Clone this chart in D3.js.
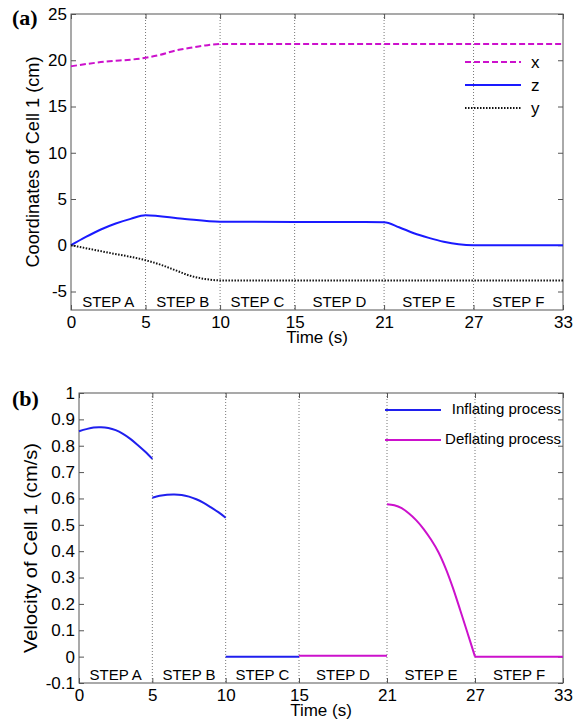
<!DOCTYPE html>
<html lang="en">
<head>
    <meta charset="UTF-8">
    <title>Cell 1 coordinates and velocity</title>
    <style>
        body { margin: 0; background: #fff; }
        text { font-family: "Liberation Sans", Arial, sans-serif; fill: #000; }
    </style>
</head>
<body>
    <script src="https://d3js.org/d3.v7.min.js"></script>
    <script>
        const width = 583;
        const height = 720;

        // shared x axis
        const timeTicks = [0, 5, 10, 15, 21, 27, 33];
        const stepBounds = [5, 10, 15, 21, 27];
        const stepNames = ["STEP A", "STEP B", "STEP C", "STEP D", "STEP E", "STEP F"];

        // (a) coordinates
        const coordTicks = [-5, 0, 5, 10, 15, 20, 25];
        const xTime = [0, 2, 5, 6, 7, 8, 9, 10, 33];
        const xCoord = [19.35, 19.8, 20.27, 20.6, 21.05, 21.35, 21.6, 21.75, 21.75];
        const zTime = [0, 1, 2, 3, 4, 5, 7.5, 10, 15, 21, 22, 23, 24, 25, 26, 27, 33];
        const zCoord = [0, 0.9, 1.7, 2.35, 2.85, 3.25, 2.87, 2.55, 2.52, 2.5, 1.95, 1.3, 0.8, 0.38, 0.1, 0, 0];
        const yTime = [0, 2.5, 5, 6, 7, 8, 9, 10, 33];
        const yCoord = [0, -0.8, -1.62, -2.1, -2.7, -3.3, -3.65, -3.8, -3.8];

        // (b) velocity
        const velTicks = [-0.1, 0, 0.1, 0.2, 0.3, 0.4, 0.5, 0.6, 0.7, 0.8, 0.9, 1];
        const velLabels = ["-0.1", "0", "0.1", "0.2", "0.3", "0.4", "0.5", "0.6", "0.7", "0.8", "0.9", "1"];
        const inflTimeA = [0, 0.5, 1, 1.5, 2, 2.5, 3, 3.5, 4, 4.5, 5];
        const inflVelA = [0.855, 0.863, 0.869, 0.87, 0.867, 0.859, 0.845, 0.826, 0.803, 0.778, 0.75];
        const inflTimeB = [5, 5.5, 6, 6.5, 7, 7.5, 8, 8.5, 9, 9.5, 10];
        const inflVelB = [0.603, 0.61, 0.614, 0.615, 0.613, 0.607, 0.597, 0.583, 0.566, 0.548, 0.527];
        const inflTimeC = [10, 15];
        const inflVelC = [0, 0];
        const deflTimeD = [15, 21];
        const deflVelD = [0.003, 0.003];
        const deflTimeE = [21, 21.5, 22, 22.5, 23, 23.5, 24, 24.5, 25, 25.5, 26, 26.5, 27];
        const deflVelE = [0.578, 0.574, 0.563, 0.543, 0.517, 0.484, 0.444, 0.397, 0.335, 0.26, 0.175, 0.088, 0];
        const deflTimeF = [27, 33];
        const deflVelF = [0, 0];

        const zip = (ts, vs) => ts.map((t, i) => [t, vs[i]]);

        const svg = d3.select("body")
            .append("svg")
            .attr("width", width)
            .attr("height", height)

        function panel(box, yDomain, yTicks, yFmt) {
            const x = d3.scaleLinear().domain([0, 33]).range([box.left, box.right]);
            const y = d3.scaleLinear().domain(yDomain).range([box.bottom, box.top]);
            const g = svg.append("g");

            // vertical dotted grid at step borders
            g.selectAll("line.grid")
                .data(stepBounds)
                .enter()
                .append("line")
                .attr("class", "grid")
                .attr("x1", d => x(d)).attr("x2", d => x(d))
                .attr("y1", box.top).attr("y2", box.bottom)
                .attr("stroke", "#777")
                .attr("stroke-width", 1)
                .attr("stroke-dasharray", "1,2");

            const ax = (a, tr) => {
                const s = g.append("g").attr("transform", tr).call(a);
                s.select(".domain").remove();
                s.selectAll(".tick line").attr("stroke", "#555");
                s.selectAll("text").style("font-size", "17px").attr("fill", "#000");
                return s;
            };
            ax(d3.axisBottom(x).tickValues(timeTicks).tickSizeInner(-5).tickSizeOuter(0).tickPadding(6).tickFormat(d => d),
                "translate(0," + box.bottom + ")");
            ax(d3.axisTop(x).tickValues(timeTicks).tickSizeInner(-5).tickSizeOuter(0).tickFormat(""),
                "translate(0," + box.top + ")");
            ax(d3.axisLeft(y).tickValues(yTicks).tickSizeInner(-5).tickSizeOuter(0).tickPadding(4).tickFormat(yFmt),
                "translate(" + box.left + ",0)");
            ax(d3.axisRight(y).tickValues(yTicks).tickSizeInner(-5).tickSizeOuter(0).tickFormat(""),
                "translate(" + box.right + ",0)");

            g.append("rect")
                .attr("x", box.left).attr("y", box.top)
                .attr("width", box.right - box.left).attr("height", box.bottom - box.top)
                .attr("fill", "none")
                .attr("stroke", "#555");

            // step names
            const edges = [0].concat(stepBounds, [33]);
            g.selectAll("text.step")
                .data(stepNames)
                .enter()
                .append("text")
                .attr("class", "step")
                .attr("x", (d, i) => x((edges[i] + edges[i + 1]) / 2))
                .attr("y", box.bottom - 3)
                .attr("text-anchor", "middle")
                .style("font-size", "15px")
                .text(d => d);

            g.append("text")
                .attr("x", (box.left + box.right) / 2)
                .attr("y", box.bottom + 33)
                .attr("text-anchor", "middle")
                .style("font-size", "17px")
                .text("Time (s)");

            return { x, y, g };
        }

        // ---- (a)
        const pa = panel({ left: 71, right: 563, top: 14, bottom: 310 }, [-7, 25], coordTicks, d => String(d));
        const lineA = d3.line().x(d => pa.x(d[0])).y(d => pa.y(d[1])).curve(d3.curveMonotoneX);

        const seriesA = [
            { name: "x", pts: zip(xTime, xCoord), color: "#cc11cc", dash: "6,3", w: 2 },
            { name: "z", pts: zip(zTime, zCoord), color: "#1a1aff", dash: null, w: 2 },
            { name: "y", pts: zip(yTime, yCoord), color: "#111", dash: "1.5,1.5", w: 2 }
        ];
        pa.g.selectAll("path.series")
            .data(seriesA)
            .enter()
            .append("path")
            .attr("class", "series")
            .attr("d", d => lineA(d.pts))
            .attr("fill", "none")
            .attr("stroke", d => d.color)
            .attr("stroke-width", d => d.w)
            .attr("stroke-dasharray", d => d.dash);

        const legA = pa.g.selectAll("g.leg")
            .data(seriesA)
            .enter()
            .append("g")
            .attr("class", "leg")
            .attr("transform", (d, i) => "translate(0," + (62 + i * 23) + ")");
        legA.append("line")
            .attr("x1", 465).attr("x2", 521)
            .attr("stroke", d => d.color)
            .attr("stroke-width", 2)
            .attr("stroke-dasharray", d => d.dash);
        legA.append("text")
            .attr("x", 531).attr("y", 6)
            .style("font-size", "17px")
            .text(d => d.name);

        svg.append("text")
            .attr("transform", "translate(39,162) rotate(-90)")
            .attr("text-anchor", "middle")
            .attr("textLength", 211)
            .attr("lengthAdjust", "spacingAndGlyphs")
            .style("font-size", "18px")
            .text("Coordinates of Cell 1 (cm)");

        svg.append("text")
            .attr("x", 12).attr("y", 25)
            .style("font-family", "'Liberation Serif', 'Times New Roman', serif")
            .style("font-weight", "bold")
            .style("font-size", "22px")
            .text("(a)");

        // ---- (b)
        const pb = panel({ left: 79, right: 563, top: 393, bottom: 683 }, [-0.1, 1], velTicks, (d, i) => velLabels[i]);
        const lineB = d3.line().x(d => pb.x(d[0])).y(d => pb.y(d[1])).curve(d3.curveCatmullRom);

        const inflColor = "#1f1fee";
        const deflColor = "#cc11cc";
        const segsB = [
            { pts: zip(inflTimeA, inflVelA), color: inflColor },
            { pts: zip(inflTimeB, inflVelB), color: inflColor },
            { pts: zip(inflTimeC, inflVelC), color: inflColor },
            { pts: zip(deflTimeD, deflVelD), color: deflColor },
            { pts: zip(deflTimeE, deflVelE), color: deflColor },
            { pts: zip(deflTimeF, deflVelF), color: deflColor }
        ];
        pb.g.selectAll("path.series")
            .data(segsB)
            .enter()
            .append("path")
            .attr("class", "series")
            .attr("d", d => lineB(d.pts))
            .attr("fill", "none")
            .attr("stroke", d => d.color)
            .attr("stroke-width", 2);

        const legB = pb.g.selectAll("g.leg")
            .data([{ name: "Inflating process", color: inflColor }, { name: "Deflating process", color: deflColor }])
            .enter()
            .append("g")
            .attr("class", "leg")
            .attr("transform", (d, i) => "translate(0," + (410 + i * 30) + ")");
        legB.append("line")
            .attr("x1", 385).attr("x2", 441)
            .attr("stroke", d => d.color)
            .attr("stroke-width", 2);
        legB.append("text")
            .attr("x", 561).attr("y", 4)
            .attr("text-anchor", "end")
            .style("font-size", "15px")
            .text(d => d.name);

        svg.append("text")
            .attr("transform", "translate(37,548) rotate(-90)")
            .attr("text-anchor", "middle")
            .attr("textLength", 210)
            .attr("lengthAdjust", "spacingAndGlyphs")
            .style("font-size", "18px")
            .text("Velocity of Cell 1 (cm/s)");

        svg.append("text")
            .attr("x", 12).attr("y", 406)
            .style("font-family", "'Liberation Serif', 'Times New Roman', serif")
            .style("font-weight", "bold")
            .style("font-size", "22px")
            .text("(b)");
    </script>
</body>
</html>
